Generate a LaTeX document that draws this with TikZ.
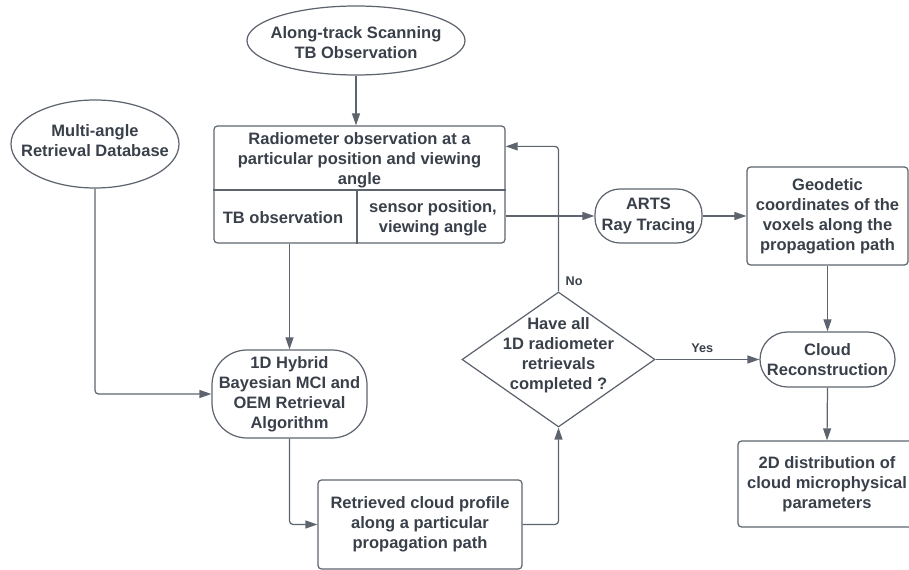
\documentclass[tikz,border=0pt]{standalone}
\usepackage{fontspec}
\setmainfont{Liberation Sans}
\usetikzlibrary{shapes.geometric,arrows.meta}
\definecolor{linegray}{RGB}{94,100,110}
\definecolor{inkgray}{RGB}{58,64,74}

\begin{document}
\begin{tikzpicture}[box/.style={draw=linegray,rounded corners=2pt,inner sep=0pt,align=center},
    term/.style={draw=linegray,rounded corners=#1,inner sep=0pt,align=center},
    oval/.style={draw=linegray,ellipse,inner sep=0pt},
    decision/.style={draw=linegray,diamond,inner sep=0pt},
    txt/.style={align=center,inner sep=0pt},
    lbl/.style={font=\fontsize{7.2}{9}\selectfont\bfseries,inner sep=0pt},
    arr/.style={-{Triangle[length=2.4mm,width=1.6mm]}},
    line width=0.7pt, draw=linegray, text=inkgray,
    font=\fontsize{9.4}{11.4}\selectfont\bfseries]
          \useasboundingbox (0,0) rectangle (18.18,11.4);
          % inputs
          \node[oval,minimum width=4.36cm,minimum height=1.38cm] (scan) at (7.12,10.59) {};
          \node[txt] (scantxt) at (7.12,10.54) {Along-track Scanning\\TB Observation};
          \node[oval,minimum width=3.36cm,minimum height=1.76cm] (db) at (1.90,8.52) {};
          \node[txt] (dbtxt) at (1.90,8.58) {Multi-angle\\Retrieval Database};
          % observation box with its two fields
          \node[box,minimum width=5.82cm,minimum height=2.34cm] (obs) at (7.19,7.71) {};
          \coordinate (cut) at (7.14,7.6);
          \draw (obs.west |- cut) -- (obs.east |- cut);
          \draw (cut) -- (cut |- obs.south);
          \node[txt] (obshead) at (7.19,8.2) {Radiometer observation at a\\particular position and viewing\\angle};
          \node[txt] (obstb) at (5.66,7.04) {TB observation};
          \node[txt] (obspos) at (8.66,7.04) {sensor position,\\viewing angle};
          % retrieval loop
          \node[term=0.7cm,minimum width=3.1cm,minimum height=1.76cm] (hyb) at (5.79,3.52) {1D Hybrid\\Bayesian MCI and\\OEM Retrieval\\Algorithm};
          \node[box,minimum width=4.08cm,minimum height=1.78cm] (prof) at (8.40,0.91) {Retrieved cloud profile\\along a particular\\propagation path};
          \node[decision,minimum width=3.86cm,minimum height=2.70cm] (dec) at (11.17,4.21) {};
          \node[txt] (dectxt) at (11.17,4.30) {Have all\\1D radiometer\\retrievals\\completed ?};
          % ray tracing and reconstruction
          \node[term=0.5cm,minimum width=2.14cm,minimum height=1.08cm] (arts) at (12.97,7.08) {ARTS\\Ray Tracing};
          \node[box,minimum width=3.22cm,minimum height=1.96cm] (geo) at (16.55,7.08) {Geodetic\\coordinates of the\\voxels along the\\propagation path};
          \node[term=0.55cm,minimum width=2.7cm,minimum height=1.1cm] (cloud) at (16.55,4.21) {Cloud\\Reconstruction};
          \node[box,minimum width=3.56cm,minimum height=1.72cm] (dist) at (16.54,1.72) {2D distribution of\\cloud microphysical\\parameters};
          \coordinate (back) at ([yshift=-0.42cm]obs.north east);
          % connectors
          \draw[arr] (scan.south) -- (scan.south |- obs.north);
          \draw[arr] (hyb.north |- obs.south) -- (hyb.north);
          \draw[arr] (db.south) [rounded corners=2pt] |- (hyb.west);
          \draw[arr] (hyb.south) [rounded corners=2pt] |- (prof.west);
          \draw[arr] (prof.east) [rounded corners=2pt] -| (dec.south);
          \draw[arr] (dec.north) [rounded corners=2pt] |- (back);
          \node[lbl,anchor=south west] (nolbl) at ([xshift=1.3mm,yshift=1mm]dec.north) {No};
          \draw[arr] (obs.east |- arts.west) -- (arts.west);
          \draw[arr] (arts.east) -- (geo.west);
          \draw[arr] (geo.south) -- (cloud.north);
          \draw[arr] (dec.east) -- node[lbl,above=1.3mm,pos=0.45] (yeslbl) {Yes} (cloud.west);
          \draw[arr] (cloud.south) -- (dist.north);
        \end{tikzpicture}
\end{document}
